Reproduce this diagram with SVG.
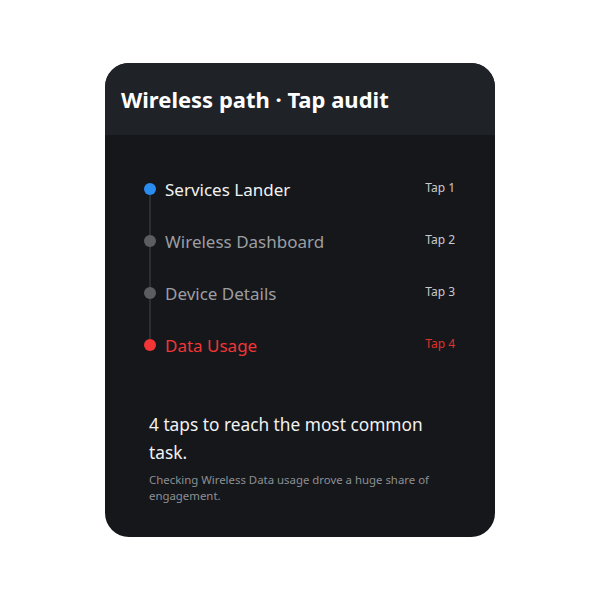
<svg xmlns="http://www.w3.org/2000/svg" width="600" height="600" viewBox="0 0 600 600">
<defs>
<clipPath id="cardClip"><rect x="105" y="63" width="390" height="474" rx="24"/></clipPath>
</defs>
<style>
text{font-family:"Noto Sans","Open Sans",sans-serif}
.title{font-size:22px;font-weight:700;fill:#ffffff}
.step{font-size:17px}
.tap{font-size:12px;text-anchor:end;fill:#c9cacc}
.head{font-size:17.3px;fill:#f2f2f2}
.sub{font-size:11.4px;fill:#8d8f93}
</style>
<rect width="600" height="600" fill="#ffffff"/>
<g id="card" clip-path="url(#cardClip)">
<rect x="105" y="63" width="390" height="474" fill="#15171b"/>
<rect x="105" y="63" width="390" height="72" fill="#1f2227"/>
</g>
<text class="title" x="121" y="108">Wireless path · Tap audit</text>
<g id="connectors">
<line x1="150" y1="189" x2="150" y2="345" stroke="#2b2e33" stroke-width="2"/>
</g>
<g id="step1">
<circle cx="150" cy="189" r="6" fill="#2b8cf0"/>
<text class="step" x="165" y="196" fill="#f2f2f2">Services Lander</text>
<text class="tap" x="455" y="192">Tap 1</text>
</g>
<g id="step2">
<circle cx="150" cy="241" r="6" fill="#5b5d61"/>
<text class="step" x="165" y="248" fill="#9c9ea2">Wireless Dashboard</text>
<text class="tap" x="455" y="244">Tap 2</text>
</g>
<g id="step3">
<circle cx="150" cy="293" r="6" fill="#5b5d61"/>
<text class="step" x="165" y="300" fill="#9c9ea2">Device Details</text>
<text class="tap" x="455" y="296">Tap 3</text>
</g>
<g id="step4">
<circle cx="150" cy="345" r="6" fill="#f23535"/>
<text class="step" x="165" y="352" fill="#f23535">Data Usage</text>
<text class="tap" x="455" y="348" style="fill:#e0302c">Tap 4</text>
</g>
<g id="summary">
<text class="head" x="149" y="431">4 taps to reach the most common</text>
<text class="head" x="149" y="459">task.</text>
<text class="sub" x="149" y="484">Checking Wireless Data usage drove a huge share of</text>
<text class="sub" x="149" y="500">engagement.</text>
</g>
</svg>
